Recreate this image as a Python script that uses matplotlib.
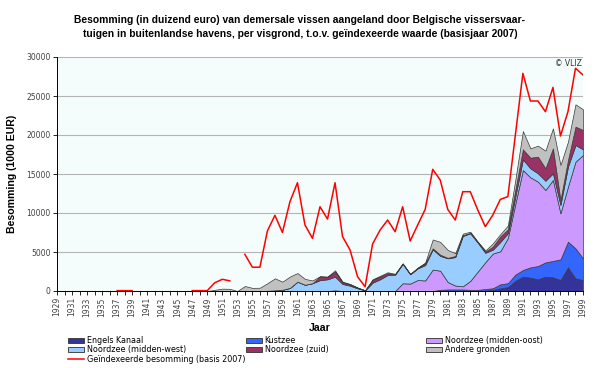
import numpy as np
import matplotlib
matplotlib.use("Agg")
import matplotlib.pyplot as plt
from matplotlib.patches import Patch
from matplotlib.lines import Line2D

plt.rcParams['font.family'] = ['DejaVu Sans']

years = list(range(1929, 2000))
nan = np.nan

# waarden per visgrond, 1949-1999 (daarvoor alles 0)
pre = [0] * 20
engels_kanaal = pre + [0, 0, 0, 0, 0, 0, 0, 0, 0, 0, 0, 0, 0, 0, 0, 0, 0, 80, 0, 0,
                       0, 0, 0, 0, 0, 0, 0, 0, 0, 0, 0, 0, 0, 0, 0, 0, 0, 50, 150, 340,
                       500, 1300, 1840, 1710, 1500, 1840, 1750, 1410, 3030, 1620, 1410]
kustzee = pre + [0, 0, 0, 0, 0, 0, 0, 0, 0, 0, 0, 0, 0, 0, 0, 0, 0, 0, 0, 0,
                 0, 0, 0, 0, 0, 0, 0, 0, 0, 0, 0, 150, 200, 200, 200, 150, 150, 200, 200, 520,
                 500, 800, 850, 1320, 1700, 1830, 2100, 2650, 3290, 3850, 2780]
nz_midden_oost = pre + [0, 0, 0, 0, 0, 0, 0, 0, 0, 0, 0, 0, 0, 0, 0, 0, 0, 0, 0, 0,
                        0, 0, 0, 0, 0, 0, 990, 950, 1410, 1350, 2750, 2450, 950, 500, 400, 1150, 2350, 3450, 4450, 4240,
                        5800, 9100, 12810, 11540, 10820, 9280, 10380, 5900, 7060, 11110, 13240]
nz_midden_west = pre + [0, 0, 0, 0, 0, 0, 0, 0, 30, 80, 150, 400, 1200, 800, 1000, 1400, 1500, 1760, 900, 680,
                        340, 80, 1070, 1500, 2050, 2100, 2510, 1200, 1490, 1980, 2590, 1900, 3040, 3650, 6450, 6100, 3700, 1200, 500, 1200,
                        600, 900, 1380, 1160, 1070, 1190, 860, 1070, 2560, 2140, 730]
nz_zuid = pre + [0, 0, 0, 0, 0, 0, 0, 0, 0, 0, 0, 0, 0, 0, 0, 440, 300, 640, 210, 170,
                 80, 0, 340, 340, 220, 50, 0, 0, 50, 220, 130, 150, 60, 140, 100, 50, 50, 140, 400, 700,
                 500, 900, 1280, 1360, 2130, 1590, 3200, 640, 850, 2350, 2480]
andere = pre + [0, 150, 300, 280, 0, 640, 400, 420, 970, 1540, 1050, 1450, 1100, 750, 350, 60, 50, 170, 90, 50,
                30, 20, 90, 110, 130, 50, 50, 50, 50, 100, 1130, 1650, 1010, 360, 200, 150, 70, 160, 400, 300,
                500, 1300, 2340, 1200, 1410, 2260, 2560, 4480, 2350, 2860, 2650]

geindexeerd = ([nan] * 8 + [50, 50, 50] + [nan] * 7 +
               [50, 50, 50, 1060, 1500, 1300, nan, 4700, 3050, 3050, 7700, 9700,
                7500, 11450, 13880, 8460, 6750, 10800, 9230, 13880, 6970, 5260,
                1830, 550, 6030, 7820, 9100, 7600, 10800, 6410, 8460, 10470,
                15600, 14230, 10470, 9100, 12730, 12730, 10380, 8250, 9740, 11750,
                12100, 20000, 27900, 24360, 24360, 22990, 26100, 19870, 23000, 28550, 27700])

labels = ["Engels Kanaal", "Kustzee", "Noordzee (midden-oost)",
          "Noordzee (midden-west)", "Noordzee (zuid)", "Andere gronden"]
kleuren = ["#333399", "#3366FF", "#CC99FF", "#99CCFF", "#993366", "#C0C0C0"]

fig = plt.figure(figsize=(6, 3.68), dpi=100)
ax = fig.add_axes([57/600, 1-291/368, 526/600, 234/368])
ax.set_facecolor("#F4FCFC")

ax.stackplot(years, engels_kanaal, kustzee, nz_midden_oost, nz_midden_west, nz_zuid, andere,
             colors=kleuren, edgecolor="#3a3a3a", linewidth=0.5, zorder=2)
ax.plot(years, geindexeerd, color="#FF0000", lw=1.1, zorder=3)

ax.set_xlim(1929, 1999)
ax.set_ylim(0, 30000)
ax.set_yticks(range(0, 30001, 5000))
ax.yaxis.grid(True, color="#B4B4B4", lw=0.8)
ax.set_axisbelow(True)
ax.set_xticks(years)
ax.set_xticklabels([str(j) if (j - 1929) % 2 == 0 else "" for j in years], rotation=90)
ax.tick_params(axis="both", labelsize=5.5, labelcolor="#404040", length=3, width=0.6, pad=1.5)
for s in ["top", "right"]:
    ax.spines[s].set_visible(False)
for s in ["left", "bottom"]:
    ax.spines[s].set_linewidth(0.7)

ax.text(0.997, 0.99, "© VLIZ", transform=ax.transAxes, ha="right", va="top", fontsize=5.5, color="#333333")

fig.text(0.5, 1-27/368, "Besomming (in duizend euro) van demersale vissen aangeland door Belgische vissersvaar-\n"
         "tuigen in buitenlandse havens, per visgrond, t.o.v. geïndexeerde waarde (basisjaar 2007)",
         ha="center", va="center", fontsize=7.4, fontweight="bold", family="Liberation Sans", linespacing=1.55)
fig.text(12/600, 1-174/368, "Besomming (1000 EUR)", rotation=90, ha="center", va="center",
         fontsize=7.6, fontweight="bold", family="Liberation Sans")
fig.text(320/600, 1-328/368, "Jaar", ha="center", va="center", fontsize=7.6, fontweight="bold", family="Liberation Sans")

# legenda in drie kolommen
patches = [Patch(facecolor=c, edgecolor="#303030", lw=0.6) for c in kleuren]
rode_lijn = Line2D([], [], color="#FF0000", lw=1.1)
kolommen = [
    ([patches[0], patches[3], rode_lijn], [labels[0], labels[3], "Geïndexeerde besomming (basis 2007)"], 68),
    ([patches[1], patches[4]], [labels[1], labels[4]], 246),
    ([patches[2], patches[5]], [labels[2], labels[5]], 426),
]
for h, l, xpos in kolommen:
    fig.legend(h, l, loc="upper left", bbox_to_anchor=(xpos/600, 1-336/368), frameon=False,
               borderpad=0, borderaxespad=0, handlelength=2.0, handleheight=0.6,
               handletextpad=0.3, labelspacing=0.05, fontsize=5.8)

fig.savefig("out.png", dpi=100)
